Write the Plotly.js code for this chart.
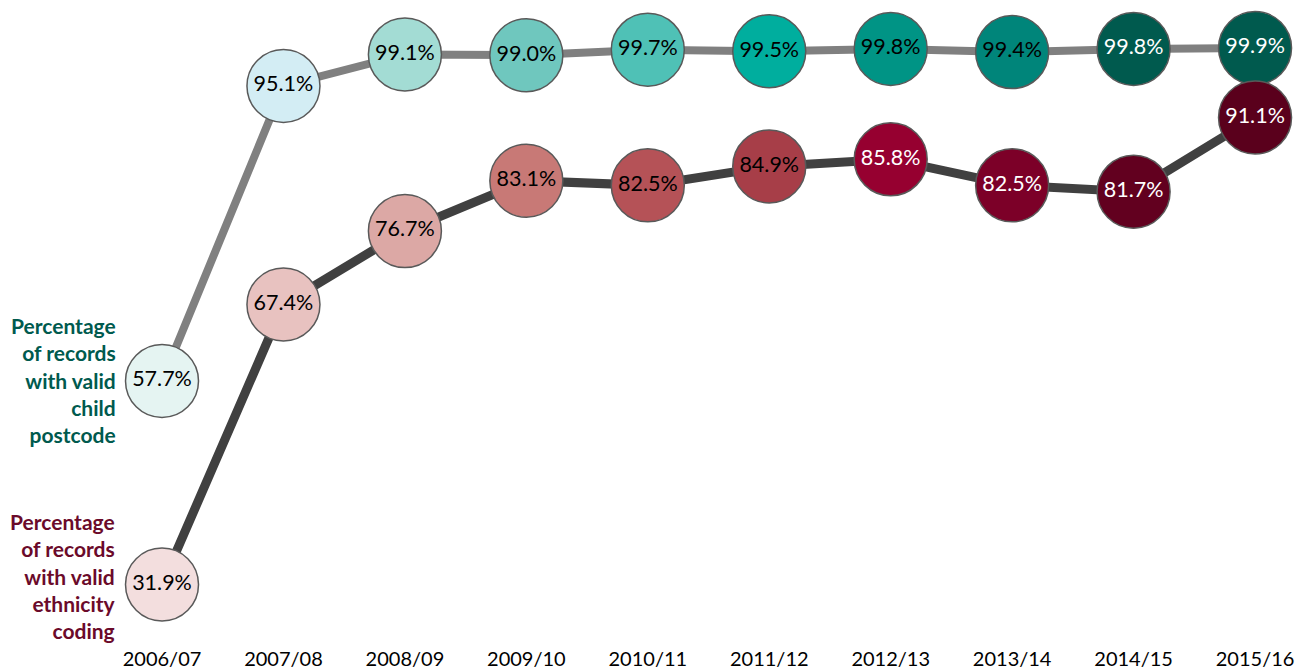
<!DOCTYPE html>
<html>
<head>
<meta charset="utf-8">
<script src="https://cdn.plot.ly/plotly-3.0.1.min.js"></script>
<style>html,body{margin:0;padding:0;background:#fff;}#chart{width:1299px;height:672px;}</style>
</head>
<body>
<div id="chart"></div>
<script>
var years = ["2006/07","2007/08","2008/09","2009/10","2010/11","2011/12","2012/13","2013/14","2014/15","2015/16"];
var postcode = [57.7, 95.1, 99.1, 99.0, 99.7, 99.5, 99.8, 99.4, 99.8, 99.9];
var ethnicity = [31.9, 67.4, 76.7, 83.1, 82.5, 84.9, 85.8, 82.5, 81.7, 91.1];
var postcodeLabel = "Percentage<br>of records<br>with valid<br>child<br>postcode";
var ethnicityLabel = "Percentage<br>of records<br>with valid<br>ethnicity<br>coding";

var postcodeColors = ["#E5F4F2","#D3EDF4","#A3DCD4","#6FC7BE","#4FC1B6","#00AE9E","#009485","#00857A","#005A4E","#005A4E"];
var postcodeText = ["#000","#000","#000","#000","#000","#000","#000","#000","#fff","#fff"];
var ethnicityColors = ["#F3DEDE","#E8C2C0","#DCA8A5","#C87976","#B55257","#A73E48","#960030","#7C0028","#62001F","#5A001C"];
var ethnicityText = ["#000","#000","#000","#000","#000","#000","#fff","#fff","#fff","#fff"];

var idx = years.map(function(_, i){ return i; });
var fmt = function(v){ return v.toFixed(1) + "%"; };
var FONT = "Lato, 'Open Sans', sans-serif";

var traces = [
  {
    x: idx, y: postcode, type: "scatter", mode: "lines+markers+text",
    line: {color: "#808080", width: 8},
    marker: {size: 73, color: postcodeColors, line: {color: "#595959", width: 1.5}, opacity: 1},
    text: postcode.map(fmt), textposition: "middle center",
    textfont: {family: FONT, size: 21.5, color: postcodeText},
    cliponaxis: false, hoverinfo: "none", showlegend: false
  },
  {
    x: idx, y: ethnicity, type: "scatter", mode: "lines+markers+text",
    line: {color: "#404040", width: 9},
    marker: {size: 73, color: ethnicityColors, line: {color: "#595959", width: 1.5}, opacity: 1},
    text: ethnicity.map(fmt), textposition: "middle center",
    textfont: {family: FONT, size: 21.5, color: ethnicityText},
    cliponaxis: false, hoverinfo: "none", showlegend: false
  }
];

var layout = {
  width: 1299, height: 672,
  margin: {l: 0, r: 0, t: 0, b: 36},
  paper_bgcolor: "#fff", plot_bgcolor: "#fff",
  font: {family: FONT, color: "#000"},
  xaxis: {
    range: [-1.334, 9.362], tickmode: "array", tickvals: idx, ticktext: years,
    showgrid: false, zeroline: false, showline: false, ticks: "outside", ticklen: 5, tickcolor: "rgba(0,0,0,0)",
    tickfont: {family: FONT, size: 20, color: "#000"}, fixedrange: true
  },
  yaxis: {
    range: [25.37, 106.0], showgrid: false, zeroline: false, showline: false,
    showticklabels: false, ticks: "", fixedrange: true
  },
  annotations: [
    {text: postcodeLabel, xref: "paper", x: 118/1299, xanchor: "right", yref: "y", y: postcode[0], yanchor: "middle", yshift: 1,
     showarrow: false, align: "right", font: {family: FONT, size: 21, color: "#005A4E", weight: "bold"}},
    {text: ethnicityLabel, xref: "paper", x: 118/1299, xanchor: "right", yref: "y", y: ethnicity[0], yanchor: "middle", yshift: 8,
     showarrow: false, align: "right", font: {family: FONT, size: 21, color: "#6B0A2A", weight: "bold"}}
  ]
};

Plotly.newPlot("chart", traces, layout, {displayModeBar: false, staticPlot: true});
</script>
</body>
</html>
